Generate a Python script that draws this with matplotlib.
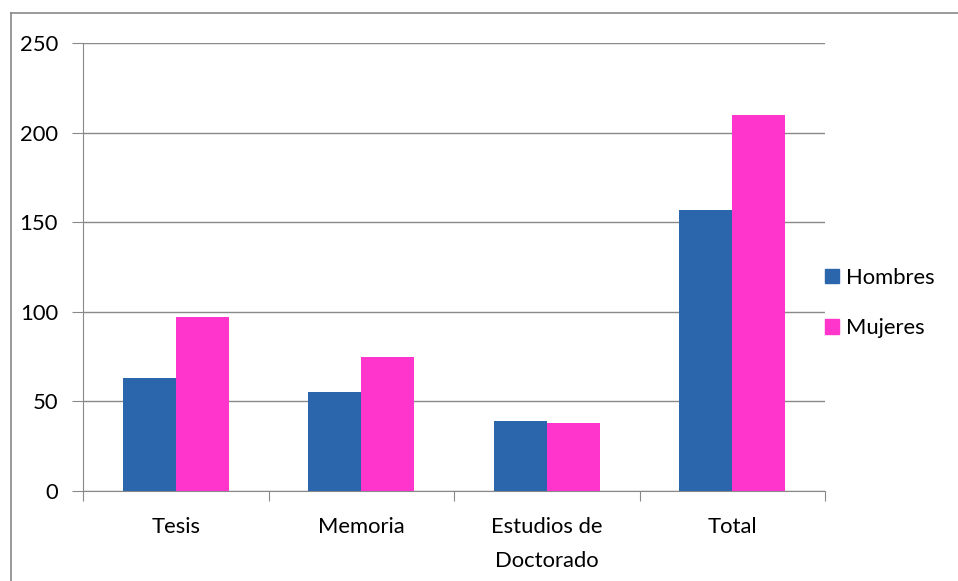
import numpy as np
import matplotlib.pyplot as plt
from matplotlib.lines import Line2D
from matplotlib.patches import Patch

categories = ["Tesis", "Memoria", "Estudios de\nDoctorado", "Total"]
hombres = [63, 55, 39, 157]
mujeres = [97, 75, 38, 210]
y_ticks = [0, 50, 100, 150, 200, 250]

BLUE = "#2B65AB"
PINK = "#FF35CC"
GRAY = "#898989"
FS = 15.8

plt.rcParams["font.family"] = ["Lato", "DejaVu Sans"]

W, H = 958, 581
fig = plt.figure(figsize=(W / 100, H / 100), dpi=100)
ax = fig.add_axes([83 / W, 1 - 491 / H, (825 - 83) / W, (491 - 43) / H])

x = np.arange(len(categories))
bw = 1 / 3.5
ax.bar(x - bw / 2, hombres, bw, color=BLUE, label="Hombres", zorder=3)
ax.bar(x + bw / 2, mujeres, bw, color=PINK, label="Mujeres", zorder=3)

ax.set_xlim(-0.5, len(categories) - 0.5)
ax.set_ylim(0, 250)
ax.set_yticks(y_ticks)
ax.set_yticklabels([str(v) for v in y_ticks], fontsize=FS)
ax.yaxis.grid(True, color=GRAY, linewidth=1)
ax.set_axisbelow(True)

# category labels at centres, tick marks at boundaries
ax.set_xticks(np.arange(-0.5, len(categories), 1.0))
ax.set_xticklabels([])
ax.set_xticks(x, minor=True)
ax.set_xticklabels(categories, minor=True, fontsize=FS, linespacing=1.85)
ax.tick_params(axis="x", which="minor", length=0, pad=19)
ax.tick_params(axis="x", which="major", length=7, color=GRAY)
ax.tick_params(axis="y", length=8, color=GRAY, pad=10)

for s in ["top", "right"]:
    ax.spines[s].set_visible(False)
for s in ["left", "bottom"]:
    ax.spines[s].set_color(GRAY)

handles = [Patch(color=BLUE, label="Hombres"), Patch(color=PINK, label="Mujeres")]
fig.legend(handles=handles, loc="center left", bbox_to_anchor=(805 / W, 1 - 303 / H),
           frameon=False, fontsize=FS, handlelength=0.65, handleheight=0.65,
           handletextpad=0.3, labelspacing=1.4)

# outer frame (left and top edges visible)
fig.add_artist(Line2D([11 / W, 11 / W], [0, 1 - 13 / H], color=GRAY, linewidth=1.2))
fig.add_artist(Line2D([11 / W, 1], [1 - 13 / H, 1 - 13 / H], color=GRAY, linewidth=1.2))

fig.savefig("out.png", dpi=100)
